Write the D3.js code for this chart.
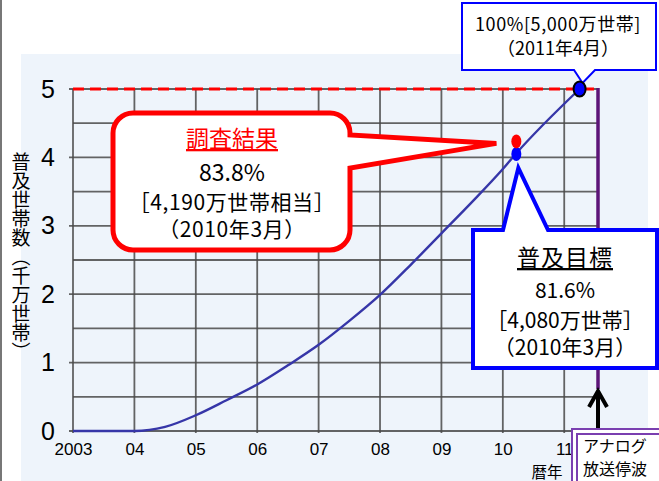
<!DOCTYPE html>
<html>
<head>
<meta charset="utf-8">
<script src="https://cdn.jsdelivr.net/npm/d3@7"></script>
<style>
  body { margin: 0; background: #fff; }
  svg { display: block; }
  text { font-family: "Liberation Sans", Arial, sans-serif; }
  .jp { font-family: "Noto Sans CJK JP", sans-serif; }
</style>
</head>
<body>
<svg id="chart" width="659" height="481"></svg>
<script>
// households with digital TV (ten-million households), by year
var years = [2003, 2004, 2004.5, 2005, 2005.5, 2006, 2006.5, 2007, 2007.5, 2008, 2008.5, 2009, 2009.5, 2010, 2010.22, 2011.25]
var households = [0, 0, 0.06, 0.23, 0.45, 0.68, 0.96, 1.26, 1.61, 1.99, 2.43, 2.89, 3.35, 3.83, 4.06, 5.0]

var yearTicks = [2003, 2004, 2005, 2006, 2007, 2008, 2009, 2010, 2011]
var yearLabels = ['2003', '04', '05', '06', '07', '08', '09', '10', '11']
var valueTicks = [0, 1, 2, 3, 4, 5]
var gridValues = [0, 0.5, 1, 1.5, 2, 2.5, 3, 3.5, 4, 4.5, 5]

var surveyDate = 2010.22    // March 2010
var surveyValue = 4.19
var targetValue = 4.08
var fullDate = 2011.25      // April 2011
var fullValue = 5
var analogOff = 2011.55     // July 2011

var svg = d3.select('#chart')
var x = d3.scaleLinear().domain([2003, analogOff]).range([73, 598])
var y = d3.scaleLinear().domain([0, 5]).range([431, 89])

// page background
svg.append('rect').attr('x', 21).attr('y', 54).attr('width', 627).attr('height', 430).attr('fill', '#eef4fb')
svg.append('line').attr('x1', 1).attr('x2', 1).attr('y1', 0).attr('y2', 481).attr('stroke', '#777').attr('stroke-width', 2)

// grid
svg.append('g').selectAll('line').data(gridValues).join('line')
    .attr('x1', d => d % 1 == 0 ? x(2003) - 4 : x(2003)).attr('x2', x(analogOff))
    .attr('y1', d => y(d)).attr('y2', d => y(d))
    .attr('stroke', '#4a4a4a').attr('stroke-width', 1.8).attr('opacity', 0.85)
svg.append('g').selectAll('line').data(yearTicks).join('line')
    .attr('x1', d => x(d)).attr('x2', d => x(d))
    .attr('y1', y(5)).attr('y2', y(0) + 2)
    .attr('stroke', '#4a4a4a').attr('stroke-width', 1.8).attr('opacity', 0.85)

// axes (labels only)
var xAxis = svg.append('g').attr('transform', 'translate(0,' + y(0) + ')')
    .call(d3.axisBottom(x).tickValues(yearTicks).tickSize(0).tickPadding(12)
        .tickFormat((d, i) => yearLabels[i]))
xAxis.select('.domain').remove()
xAxis.selectAll('text').attr('font-size', 17).attr('fill', '#000').attr('font-family', '"Liberation Sans", Arial, sans-serif')

var yAxis = svg.append('g').attr('transform', 'translate(55,0)')
    .call(d3.axisLeft(y).tickValues(valueTicks).tickSize(0).tickPadding(0).tickFormat(d3.format('d')))
yAxis.select('.domain').remove()
yAxis.selectAll('text').attr('font-size', 25).attr('fill', '#000').attr('font-family', '"Liberation Sans", Arial, sans-serif')

svg.append('text').attr('class', 'jp')
    .attr('x', 21).attr('y', 257)
    .attr('text-anchor', 'middle')
    .style('writing-mode', 'vertical-rl')
    .attr('font-size', 19).attr('fill', '#000')
    .text('普及世帯数（千万世帯）')

svg.append('text').attr('class', 'jp').attr('x', 547).attr('y', 478)
    .attr('text-anchor', 'middle').attr('font-size', 15.5).attr('fill', '#000').text('暦年')

// 100% target line and analog switch-off line
svg.append('line').attr('x1', x(2003)).attr('x2', x(analogOff))
    .attr('y1', y(fullValue)).attr('y2', y(fullValue))
    .attr('stroke', '#ff0000').attr('stroke-width', 3).attr('stroke-dasharray', '11,6')
svg.append('line').attr('x1', x(analogOff)).attr('x2', x(analogOff))
    .attr('y1', y(fullValue) - 1).attr('y2', 389)
    .attr('stroke', '#5c1478').attr('stroke-width', 3.5)

// curve
var line = d3.line().x(d => x(d[0])).y(d => y(d[1])).curve(d3.curveMonotoneX)
svg.append('path').datum(d3.zip(years, households))
    .attr('d', line).attr('fill', 'none')
    .attr('stroke', '#3636a8').attr('stroke-width', 2.4)

// arrow
var ax = x(analogOff)
svg.append('line').attr('x1', ax).attr('x2', ax).attr('y1', 391).attr('y2', 432)
    .attr('stroke', '#000').attr('stroke-width', 4)
svg.append('path').attr('d', 'M' + (ax - 9) + ',407 L' + ax + ',391 L' + (ax + 9) + ',407')
    .attr('fill', 'none').attr('stroke', '#000').attr('stroke-width', 4)

// analog box
svg.append('rect').attr('x', 572).attr('y', 429).attr('width', 120).attr('height', 80)
    .attr('fill', '#fff').attr('stroke', '#7a3fb0').attr('stroke-width', 2)
svg.append('rect').attr('x', 577).attr('y', 434).attr('width', 120).attr('height', 80)
    .attr('fill', 'none').attr('stroke', '#7a3fb0').attr('stroke-width', 2)
svg.append('text').attr('class', 'jp').attr('x', 583).attr('y', 452).attr('font-size', 16).attr('fill', '#000').text('アナログ')
svg.append('text').attr('class', 'jp').attr('x', 583).attr('y', 475).attr('font-size', 16).attr('fill', '#000').text('放送停波')

// red callout (survey result)
var rx0 = 113, ry0 = 113, rx1 = 350, ry1 = 250, rr = 20
var rtx = x(surveyDate) - 20, rty = y(surveyValue) - 1
svg.append('path')
    .attr('d', 'M' + (rx0 + rr) + ',' + ry0 + ' H' + (rx1 - rr) +
        ' A' + rr + ',' + rr + ' 0 0 1 ' + rx1 + ',' + (ry0 + rr) +
        ' V135 L' + rtx + ',' + rty + ' L' + rx1 + ',168' +
        ' V' + (ry1 - rr) + ' A' + rr + ',' + rr + ' 0 0 1 ' + (rx1 - rr) + ',' + ry1 +
        ' H' + (rx0 + rr) + ' A' + rr + ',' + rr + ' 0 0 1 ' + rx0 + ',' + (ry1 - rr) +
        ' V' + (ry0 + rr) + ' A' + rr + ',' + rr + ' 0 0 1 ' + (rx0 + rr) + ',' + ry0 + ' Z')
    .attr('fill', '#fff').attr('stroke', '#ff0000').attr('stroke-width', 5).attr('stroke-linejoin', 'miter')

var rcx = 232
svg.append('text').attr('class', 'jp').attr('x', rcx).attr('y', 147).attr('text-anchor', 'middle')
    .attr('font-size', 23).attr('fill', '#ff0000').attr('text-decoration', 'underline').text('調査結果')
svg.append('text').attr('class', 'jp').attr('x', rcx).attr('y', 181).attr('text-anchor', 'middle')
    .attr('font-size', 23).attr('fill', '#000').text(d3.format('.1f')(surveyValue / fullValue * 100) + '%')
svg.append('text').attr('class', 'jp').attr('x', rcx).attr('y', 210).attr('text-anchor', 'middle')
    .attr('font-size', 21).attr('letter-spacing', 0.6).attr('fill', '#000').text('［4,190万世帯相当］')
svg.append('text').attr('class', 'jp').attr('x', rcx).attr('y', 237).attr('text-anchor', 'middle')
    .attr('font-size', 21).attr('letter-spacing', 0.6).attr('fill', '#000').text('（2010年3月）')

// blue callout (target)
var bx0 = 473, by0 = 230, bx1 = 657, by1 = 368
var btx = x(surveyDate) + 2, bty = 168
svg.append('path')
    .attr('d', 'M' + bx0 + ',' + by0 + ' H503 L' + btx + ',' + bty + ' L548,' + by0 +
        ' H' + bx1 + ' V' + by1 + ' H' + bx0 + ' Z')
    .attr('fill', '#fff').attr('stroke', '#0000ff').attr('stroke-width', 4)
var bcx = 565
svg.append('text').attr('class', 'jp').attr('x', bcx).attr('y', 266).attr('text-anchor', 'middle')
    .attr('font-size', 23).attr('letter-spacing', 1).attr('fill', '#000').attr('text-decoration', 'underline').text('普及目標')
svg.append('text').attr('class', 'jp').attr('x', bcx).attr('y', 298).attr('text-anchor', 'middle')
    .attr('font-size', 21).attr('fill', '#000').text('81.6%')
svg.append('text').attr('class', 'jp').attr('x', bcx).attr('y', 328).attr('text-anchor', 'middle')
    .attr('font-size', 21).attr('fill', '#000').text('［4,080万世帯］')
svg.append('text').attr('class', 'jp').attr('x', bcx).attr('y', 355).attr('text-anchor', 'middle')
    .attr('font-size', 21).attr('fill', '#000').text('（2010年3月）')

// top callout (100%)
var tx0 = 462, ty0 = 3, tx1 = 656, ty1 = 70
svg.append('path')
    .attr('d', 'M' + tx0 + ',' + ty0 + ' H' + tx1 + ' V' + ty1 + ' H595 L' + (x(fullDate) + 3) + ',' + (y(fullValue) - 6) +
        ' L574,' + ty1 + ' H' + tx0 + ' Z')
    .attr('fill', '#fff').attr('stroke', '#0000ff').attr('stroke-width', 2)
svg.append('text').attr('class', 'jp').attr('x', 558).attr('y', 31).attr('text-anchor', 'middle')
    .attr('font-size', 18).attr('letter-spacing', 0.6).attr('fill', '#000').text('100%[5,000万世帯]')
svg.append('text').attr('class', 'jp').attr('x', 558).attr('y', 55).attr('text-anchor', 'middle')
    .attr('font-size', 18).attr('fill', '#000').text('（2011年4月）')

// points
svg.append('ellipse').attr('cx', x(surveyDate)).attr('cy', y(targetValue) + 2).attr('rx', 5).attr('ry', 7).attr('fill', '#0000ff')
svg.append('ellipse').attr('cx', x(surveyDate)).attr('cy', y(surveyValue) - 3).attr('rx', 5).attr('ry', 7).attr('fill', '#ff0000')
svg.append('ellipse').attr('cx', x(fullDate)).attr('cy', y(fullValue)).attr('rx', 6).attr('ry', 7.5)
    .attr('fill', '#0000ff').attr('stroke', '#000').attr('stroke-width', 2)
</script>
</body>
</html>
